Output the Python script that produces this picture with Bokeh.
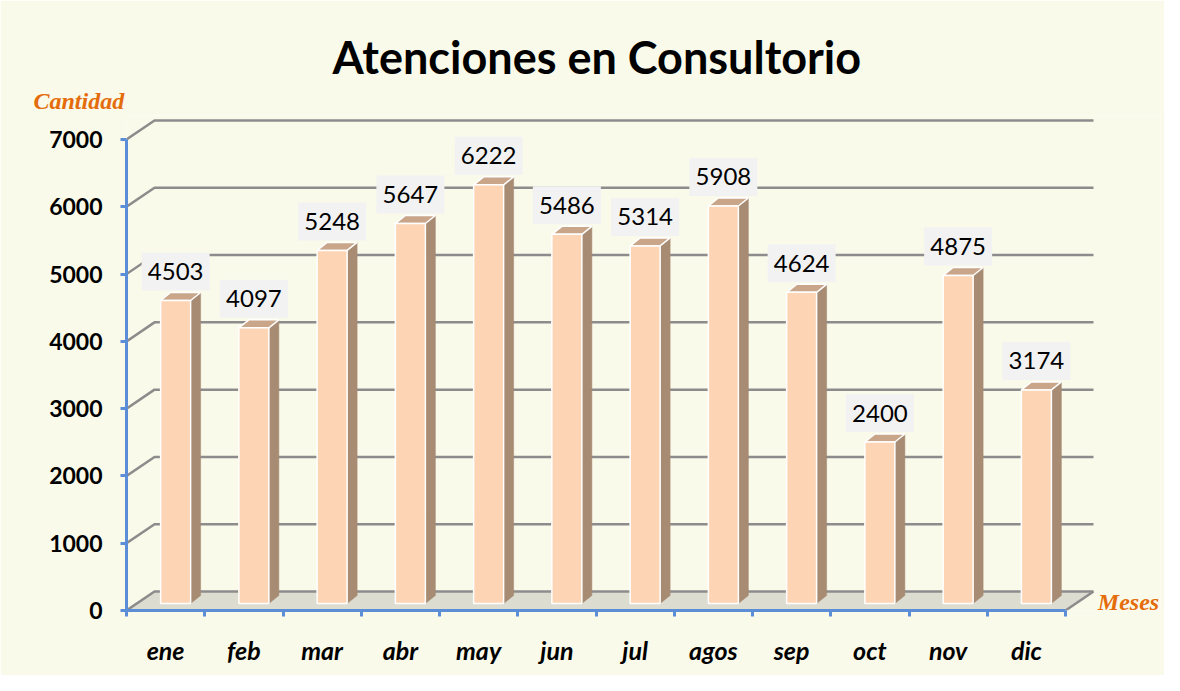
from bokeh.plotting import figure
from bokeh.models import Range1d, FixedTicker, Label, ColumnDataSource, Title
from bokeh.core.properties import value
from bokeh.embed import file_html
from bokeh.resources import INLINE

# ---- data ----
months = ["ene", "feb", "mar", "abr", "may", "jun", "jul", "agos", "sep", "oct", "nov", "dic"]
values = [4503, 4097, 5248, 5647, 6222, 5486, 5314, 5908, 4624, 2400, 4875, 3174]
y_ticks = [0, 1000, 2000, 3000, 4000, 5000, 6000, 7000]
title_text = "Atenciones en Consultorio"
y_title = "Cantidad"
x_title = "Meses"

# ---- style constants (pixel -> data conversions) ----
PXX = 1 / 78.25          # one pixel in x data units (one category slot = 78.25 px)
PXY = 7000 / 471.0       # one pixel in y data units
WALL_DX, WALL_DY = 28 * PXX, 19 * PXY
BAR_DX0, BAR_DY0 = 10 * PXX, 7 * PXY
BAR_W = 30 * PXX
BAR_DDX, BAR_DDY = 10 * PXX, 8 * PXY
BOX_W, BOX_H, BOX_GAP = 68 * PXX, 38 * PXY, 2 * PXY

BG = "#FAFAEA"
BLUE = "#5B8ED6"
GRID = "#8C8C8C"
FRONT = "#FDD5B4"
SIDE = "#A78B73"
TOP = "#C9A589"
ORANGE = "#E46C0A"

n = len(months)
W, H = 1164, 675
BL, BR, BT, BB = 126, 4, 115, 65

p = figure(width=W, height=H,
           x_range=Range1d(0, (W - BL - BR) * PXX), y_range=Range1d(0, (H - BT - BB) * PXY),
           output_backend="svg", toolbar_location=None,
           min_border_left=BL, min_border_right=BR, min_border_top=BT, min_border_bottom=BB,
           background_fill_color=BG, border_fill_color=BG, outline_line_color=None)
p.xgrid.grid_line_color = None
p.ygrid.grid_line_color = None

# titles (the one added first sits closest to the plot)
p.title.text = title_text
p.title.align = "left"
p.title.offset = 206
p.title.standoff = 2
p.title.text_font = "Lato"
p.title.text_font_size = "45px"
p.title.text_font_style = "bold"
p.title.text_color = "black"

p.add_layout(Title(text=y_title, align="left", offset=-93, standoff=3,
                   text_font="Liberation Serif", text_font_size="24px",
                   text_font_style="bold italic", text_color=ORANGE), "above")

# floor
p.patch([0, n, n + WALL_DX, WALL_DX], [0, 0, WALL_DY, WALL_DY],
        fill_color="#DCDCD0", line_color=None)
p.line([0, n], [0, 0], line_color="#F2F2EC", line_width=2)
p.line([n, n + WALL_DX], [0, WALL_DY], line_color=GRID, line_width=2.5)

# back-wall gridlines
gx = [[0, WALL_DX, n + WALL_DX] for _ in y_ticks]
gy = [[v, v + WALL_DY, v + WALL_DY] for v in y_ticks]
p.multi_line(gx, gy, line_color=GRID, line_width=2.5)

# bars
cx = [i + 0.5 + BAR_DX0 for i in range(n)]
xl = [c - BAR_W / 2 for c in cx]
xr = [c + BAR_W / 2 for c in cx]
yb = [BAR_DY0 for _ in values]
yt = [v + BAR_DY0 for v in values]

side_xs = [[r, r + BAR_DDX, r + BAR_DDX, r] for r in xr]
side_ys = [[b, b + BAR_DDY, t + BAR_DDY, t] for b, t in zip(yb, yt)]
p.patches(side_xs, side_ys, fill_color=SIDE, line_color=SIDE, line_width=0.5)

top_xs = [[l, r, r + BAR_DDX, l + BAR_DDX] for l, r in zip(xl, xr)]
top_ys = [[t, t, t + BAR_DDY, t + BAR_DDY] for t in yt]
p.patches(top_xs, top_ys, fill_color=TOP, line_color="white", line_width=1.5)

p.quad(left=xl, right=xr, bottom=yb, top=yt, fill_color=FRONT,
       line_color="white", line_width=1.5)

# data labels
bb = [t + BAR_DDY + BOX_GAP for t in yt]
bt = [b + BOX_H for b in bb]
p.quad(left=[c - BOX_W / 2 for c in cx], right=[c + BOX_W / 2 for c in cx],
       bottom=bb, top=bt, fill_color="#F2F2F2", line_color=None)
src = ColumnDataSource(dict(x=cx, y=[(b + t) / 2 for b, t in zip(bb, bt)],
                            t=[str(v) for v in values]))
p.text(x="x", y="y", text="t", source=src, text_align="center", text_baseline="middle",
       text_font=value("Lato"), text_font_size="24px", text_color="black")

# axes
p.xaxis.ticker = FixedTicker(ticks=[i + 0.5 for i in range(n)], minor_ticks=list(range(n + 1)))
p.xaxis.major_label_overrides = {i + 0.5: m for i, m in enumerate(months)}
p.xaxis.bounds = (0, n)
p.xaxis.major_tick_out = 0
p.xaxis.major_tick_in = 0
p.xaxis.minor_tick_out = 6
p.xaxis.minor_tick_in = 0
p.xaxis.minor_tick_line_color = BLUE
p.xaxis.minor_tick_line_width = 3
p.xaxis.major_label_standoff = 18
p.xaxis.major_label_text_font = "Lato"
p.xaxis.major_label_text_font_size = "25px"
p.xaxis.major_label_text_font_style = "bold italic"
p.xaxis.major_label_text_color = "black"

p.yaxis.ticker = FixedTicker(ticks=y_ticks, minor_ticks=[])
p.yaxis.bounds = (0, 7000)
p.yaxis.major_tick_out = 6
p.yaxis.major_tick_in = 0
p.yaxis.major_label_standoff = 18
p.yaxis.major_label_text_font = "Lato"
p.yaxis.major_label_text_font_size = "23px"
p.yaxis.major_label_text_font_style = "bold"
p.yaxis.major_label_text_color = "black"

for ax in (p.xaxis[0], p.yaxis[0]):
    ax.axis_line_color = BLUE
    ax.axis_line_width = 3
    ax.major_tick_line_color = BLUE
    ax.major_tick_line_width = 3

# x-axis title (inside the plot frame, right end)
p.add_layout(Label(x=1002 * PXX, y=9 * PXY, text=x_title, text_align="center",
                   text_baseline="middle", text_font="Liberation Serif",
                   text_font_size="24px", text_font_style="bold italic", text_color=ORANGE))

open("out.html", "w").write(file_html(p, INLINE))
